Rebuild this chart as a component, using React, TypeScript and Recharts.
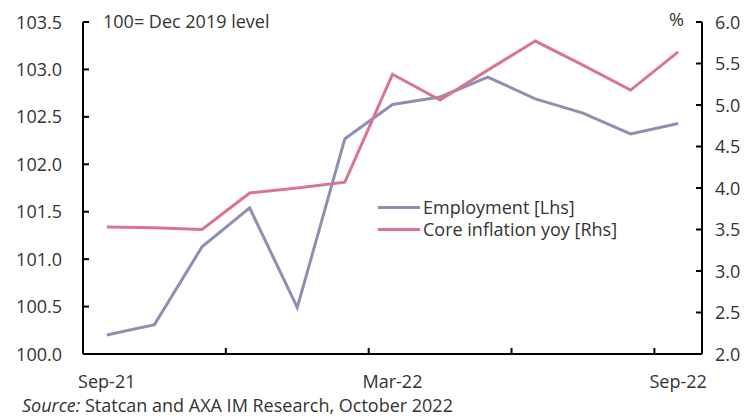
import React from "react";
import { LineChart, Line, XAxis, YAxis, Legend } from "recharts";

const MONTHS = [
  "Sep-21", "Oct-21", "Nov-21", "Dec-21", "Jan-22", "Feb-22", "Mar-22",
  "Apr-22", "May-22", "Jun-22", "Jul-22", "Aug-22", "Sep-22",
];
const EMPLOYMENT = [100.2, 100.31, 101.13, 101.54, 100.49, 102.27, 102.63, 102.71, 102.92, 102.69, 102.54, 102.32, 102.43];
const CORE_INFLATION = [3.53, 3.52, 3.5, 3.94, 4.0, 4.07, 5.37, 5.06, 5.42, 5.77, 5.48, 5.18, 5.64];
const LEFT_TICKS = [100, 100.5, 101, 101.5, 102, 102.5, 103, 103.5];
const RIGHT_TICKS = [2, 2.5, 3, 3.5, 4, 4.5, 5, 5.5, 6];
const LABELLED_MONTHS = ["Sep-21", "Mar-22", "Sep-22"];
const TICK_MARK_EVERY = 3;
const SERIES_ORDER = ["Employment [Lhs]", "Core inflation yoy [Rhs]"];

const FONT = "'Open Sans', sans-serif";
const FS = 18;
const TEXT = "#333";
const EMP_COLOR = "#8f8fb3";
const CORE_COLOR = "#d97492";

const data = MONTHS.map((m, i) => ({
  x: i + 0.5,
  month: m,
  employment: EMPLOYMENT[i],
  core: CORE_INFLATION[i],
}));

// labels sit on category centres, tick marks on category boundaries
const xTicks = [
  ...MONTHS.map((m, i) => (LABELLED_MONTHS.includes(m) ? i + 0.5 : -1)).filter((v) => v >= 0),
  ...MONTHS.map((_, i) => i).filter((i) => i > 0 && i % TICK_MARK_EVERY === 0),
];

const XTick = ({ x, y, payload }: any) => {
  const v = payload.value;
  if (Number.isInteger(v)) {
    return <line x1={x} x2={x} y1={y} y2={y - 6} stroke="#000" strokeWidth={2} />;
  }
  return (
    <text x={x} y={y + 34} textAnchor="middle" fill={TEXT} fontSize={FS} fontFamily={FONT}>
      {MONTHS[v - 0.5]}
    </text>
  );
};

const LeftTick = ({ x, y, payload }: any) => (
  <g>
    <line x1={x} x2={x + 6} y1={y} y2={y} stroke="#000" strokeWidth={2} />
    <text x={x - 21} y={y + 6.5} textAnchor="end" fill={TEXT} fontSize={FS} fontFamily={FONT}>
      {payload.value.toFixed(1)}
    </text>
  </g>
);

const RightTick = ({ x, y, payload }: any) => (
  <g>
    <line x1={x} x2={x - 6} y1={y} y2={y} stroke="#000" strokeWidth={2} />
    <text x={x + 13} y={y + 6.5} textAnchor="start" fill={TEXT} fontSize={FS} fontFamily={FONT}>
      {payload.value.toFixed(1)}
    </text>
  </g>
);

const LegendContent = ({ payload }: any) => {
  const items = [...(payload || [])].sort(
    (a: any, b: any) => SERIES_ORDER.indexOf(a.value) - SERIES_ORDER.indexOf(b.value)
  );
  return (
    <div style={{ display: "flex", flexDirection: "column" }}>
      {items.map((p: any) => (
        <div key={p.value} style={{ display: "flex", alignItems: "center", fontFamily: FONT, fontSize: FS, color: TEXT, height: 22 }}>
          <div style={{ width: 42, height: 3, background: p.color, marginRight: 3 }} />
          <span style={{ lineHeight: "22px" }}>{p.value}</span>
        </div>
      ))}
    </div>
  );
};

export default function App() {
  return (
    <div style={{ position: "relative", width: 753, height: 417, background: "#fff", fontFamily: FONT }}>
      <style>{`body{margin:0}`}</style>
      <LineChart width={753} height={417} data={data} margin={{ top: 22, right: 0, bottom: 33, left: 0 }}>
        <XAxis
          dataKey="x"
          type="number"
          domain={[0, MONTHS.length]}
          ticks={xTicks}
          interval={0}
          height={30}
          tickSize={0}
          tickMargin={0}
          tickLine={false}
          axisLine={{ stroke: "#000", strokeWidth: 2 }}
          tick={<XTick />}
        />
        <YAxis
          yAxisId="left"
          domain={[100, 103.5]}
          ticks={LEFT_TICKS}
          interval={0}
          width={83}
          tickSize={0}
          tickMargin={0}
          tickLine={false}
          axisLine={{ stroke: "#000", strokeWidth: 2 }}
          tick={<LeftTick />}
        />
        <YAxis
          yAxisId="right"
          orientation="right"
          domain={[2, 6]}
          ticks={RIGHT_TICKS}
          interval={0}
          width={51}
          tickSize={0}
          tickMargin={0}
          tickLine={false}
          axisLine={{ stroke: "#000", strokeWidth: 2 }}
          tick={<RightTick />}
        />
        <Legend
          layout="vertical"
          verticalAlign="middle"
          align="center"
          content={<LegendContent />}
          wrapperStyle={{ left: 378, top: 196, width: 320 }}
        />
        <Line yAxisId="left" dataKey="employment" name="Employment [Lhs]" stroke={EMP_COLOR} strokeWidth={3} dot={false} isAnimationActive={false} />
        <Line yAxisId="right" dataKey="core" name="Core inflation yoy [Rhs]" stroke={CORE_COLOR} strokeWidth={3} dot={false} isAnimationActive={false} />
      </LineChart>
      <div style={{ position: "absolute", left: 103, top: 9, fontSize: FS, color: TEXT }}>100= Dec 2019 level</div>
      <div style={{ position: "absolute", left: 669, top: 7, fontSize: FS, color: TEXT }}>%</div>
      <div style={{ position: "absolute", left: 22, top: 398, fontSize: FS, lineHeight: "14px", color: TEXT, whiteSpace: "nowrap" }}>
        <i>Source:</i> Statcan and AXA IM Research, October 2022
      </div>
    </div>
  );
}
